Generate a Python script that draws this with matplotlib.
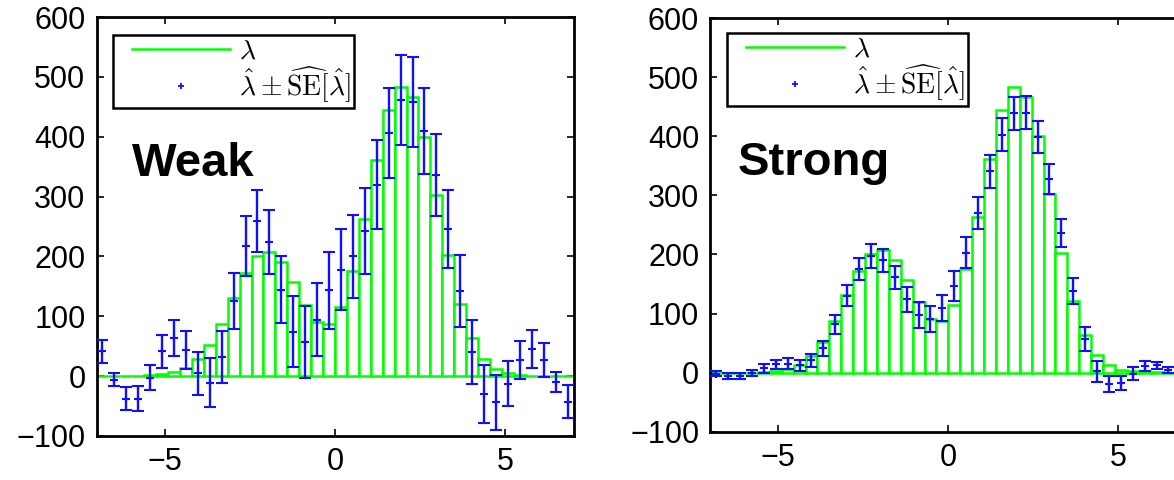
import numpy as np
import matplotlib
matplotlib.use("Agg")
import matplotlib.pyplot as plt
from matplotlib.lines import Line2D
from matplotlib.legend_handler import HandlerBase

plt.rcParams["font.family"] = ["Liberation Sans", "DejaVu Sans"]
plt.rcParams["mathtext.fontset"] = "cm"

# 40 bins of width 0.35 spanning [-7, 7]
bin_edges = np.linspace(-7, 7, 41)
bin_centers = 0.5 * (bin_edges[:-1] + bin_edges[1:])
bin_width = bin_edges[1] - bin_edges[0]

# true intensity per bin
lam_true = [0, 0, 0, 0, 1, 3, 6, 13, 28, 52,
            87, 131, 172, 201, 208, 191, 157, 119, 91, 87,
            115, 175, 263, 362, 445, 484, 467, 400, 303, 203,
            121, 63, 29, 12, 4.5, 2, 0.5, 0.2, 0, 0]

# weak-signal estimate and its standard error
weak_est = [41, -6, -38, -38, -3, 41, 63, 44, 4.5, -11,
            32, 125, 218, 259, 224, 144, 74, 57, 94, 143,
            178, 200, 242, 320, 406, 461, 458, 410, 336, 246,
            142, 40, -30, -44, -13, 27, 45, 27, -9.5, -43]
weak_se = [20, 11, 19.5, 21, 21, 27, 30, 32, 36, 40.5,
           43, 47, 50, 52, 53, 56, 59, 60, 61, 65,
           67, 70, 72, 74, 75, 75, 75, 72, 68, 65,
           60, 54, 48, 46, 38, 32, 32, 29, 16.5, 28]

# strong-signal estimate and its standard error
strong_est = [-2, -6, -6, -1, 7, 14, 15, 12, 21, 41,
              82, 130, 175, 197, 190, 161, 124, 97, 90, 110,
              147, 203, 270, 341, 403, 439, 440, 399, 328, 236,
              138, 57, 2, -19, -17.5, -2, 11, 12, 4, 3]
strong_se = [4.5, 4.5, 4.5, 5, 7, 8, 9, 9, 11, 13,
             16, 18, 18.5, 20, 20, 20, 21, 22, 22, 22,
             25, 26, 27, 28, 28, 28, 28, 27, 25, 24,
             21.5, 20, 17.5, 14, 12, 11, 9, 6, 5, 4]

panel_titles = ["Weak", "Strong"]
y_ticks = [-100, 0, 100, 200, 300, 400, 500, 600]
x_ticks = [-5, 0, 5]

W, H = 1174, 480
fig = plt.figure(figsize=(W / 100, H / 100), dpi=100)

# axes rectangles in pixels: left, top, right, bottom
rects = [(96.5, 17.2, 573.5, 435.8), (710.3, 18.3, 1186.3, 431.6)]
legend_anchor = [(113, 35), (727, 33)]
title_pos = [(0.075, 0.62), (0.058, 0.62)]

green = "#00ff00"
blue = "#1010ff"


class InsetHandler(HandlerBase):
    """Legend key drawn over the right part of the handle box only."""

    def __init__(self, inset=0.2, **kw):
        super().__init__(**kw)
        self.inset = inset

    def create_artists(self, legend, orig, xdescent, ydescent, width, height,
                       fontsize, trans):
        y = height / 2 - ydescent
        x0 = -xdescent + self.inset * width
        x1 = -xdescent + width
        artists = []
        if orig.get_linestyle() not in ("None", "none", ""):
            ln = Line2D([x0, x1], [y, y], color=orig.get_color(),
                        lw=orig.get_linewidth())
            ln.set_transform(trans)
            artists.append(ln)
        if orig.get_marker() not in ("None", "none", None, ""):
            mk = Line2D([(x0 + x1) / 2], [y], ls="none",
                        marker=orig.get_marker(), color=orig.get_color(),
                        markersize=orig.get_markersize(),
                        markeredgewidth=orig.get_markeredgewidth())
            mk.set_transform(trans)
            artists.append(mk)
        return artists


for idx, (est, se) in enumerate([(weak_est, weak_se), (strong_est, strong_se)]):
    l, t, r, b = rects[idx]
    ax = fig.add_axes([l / W, 1 - b / H, (r - l) / W, (b - t) / H])
    ax.bar(bin_centers, lam_true, width=bin_width, facecolor="white",
           edgecolor=green, linewidth=1.8, zorder=2)
    ax.errorbar(bin_centers, est, yerr=se, fmt="+", color=blue, ecolor=blue,
                markersize=6, markeredgewidth=1.5, elinewidth=1.7,
                capsize=4, capthick=1.7, zorder=3)
    ax.set_xlim(-7, 7)
    ax.set_ylim(-100, 600)
    ax.set_xticks(x_ticks)
    ax.set_yticks(y_ticks)
    ax.tick_params(direction="in", length=5, width=1.2, top=True, right=True,
                   labelsize=22, pad=8)
    for sp in ax.spines.values():
        sp.set_linewidth(2)
        sp.set_color("black")

    handles = [Line2D([], [], color=green, lw=1.8),
               Line2D([], [], color=blue, marker="+", ls="none",
                      markersize=5, markeredgewidth=1.3)]
    labels = [r"$\lambda$",
              r"$\hat{\lambda} \pm \widehat{\mathrm{SE}}[\hat{\lambda}]\;\;\;$"]
    ax_w, ax_h = r - l, b - t
    lx, ly = legend_anchor[idx]
    leg = ax.legend(handles, labels, loc="upper left",
                    bbox_to_anchor=((lx - l) / ax_w, 1 - (ly - t) / ax_h),
                    borderaxespad=0, fancybox=False, fontsize=20,
                    handlelength=4.1, handletextpad=0.3, labelspacing=0.0,
                    borderpad=0.12, framealpha=1,
                    handler_map={Line2D: InsetHandler(inset=0.14)})
    leg.get_frame().set_edgecolor("black")
    leg.get_frame().set_linewidth(1.8)

    tx, ty = title_pos[idx]
    ax.text(tx, ty, panel_titles[idx], transform=ax.transAxes,
            fontsize=34, fontweight="bold", ha="left", va="baseline")

fig.savefig("out.png", dpi=100)
